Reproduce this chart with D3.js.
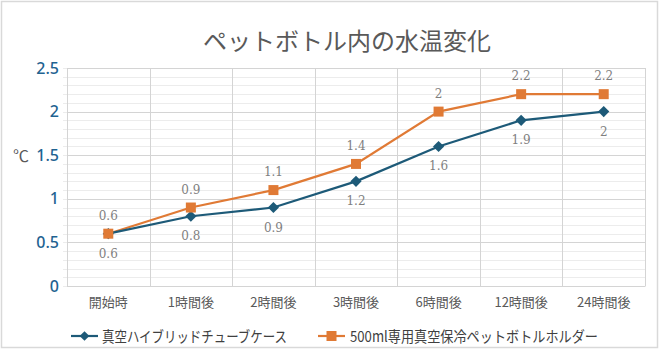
<!DOCTYPE html>
<html><head><meta charset="utf-8">
<script src="https://cdn.jsdelivr.net/npm/d3@7"></script>
<style>body{margin:0;background:#fff}svg{display:block}</style>
</head><body>
<svg id="c" width="660" height="351"></svg>
<script>
const categories = ["開始時","1時間後","2時間後","3時間後","6時間後","12時間後","24時間後"];
const seriesNames = ["真空ハイブリッドチューブケース","500ml専用真空保冷ペットボトルホルダー"];
const blueValues = [0.6,0.8,0.9,1.2,1.6,1.9,2.0];
const orangeValues = [0.6,0.9,1.1,1.4,2.0,2.2,2.2];
const yTicks = [0,0.5,1,1.5,2,2.5];
const title = "ペットボトル内の水温変化";
const yLabel = "℃";

const svg = d3.select("#c");
const W=660,H=351;
const m={l:67,r:15,t:68,b:65};
const blue="#1d5a78", orange="#e07a35";
svg.append("rect").attr("x",1.5).attr("y",1.5).attr("width",W-4).attr("height",H-5)
  .attr("fill","#fff").attr("stroke","#d9d9d9").attr("stroke-width",1.5);

const x=d3.scaleBand().domain(categories).range([m.l,W-m.r]);
const y=d3.scaleLinear().domain([0,2.5]).range([H-m.b,m.t]);

// minor grid
const minor=d3.range(0,2.5001,0.1);
svg.append("g").selectAll("line").data(minor).join("line")
  .attr("x1",m.l-4).attr("x2",W-m.r).attr("y1",d=>Math.round(y(d))+0.5).attr("y2",d=>Math.round(y(d))+0.5)
  .attr("stroke","#ececec").attr("stroke-width",1);
// major grid
svg.append("g").selectAll("line").data(yTicks).join("line")
  .attr("x1",m.l).attr("x2",W-m.r).attr("y1",d=>Math.round(y(d))+0.5).attr("y2",d=>Math.round(y(d))+0.5)
  .attr("stroke","#d4d4d4").attr("stroke-width",1);
// vertical grid
const bounds=categories.map(c=>x(c)).concat([x.range()[1]]);
svg.append("g").selectAll("line").data(bounds).join("line")
  .attr("x1",d=>Math.round(d)+0.5).attr("x2",d=>Math.round(d)+0.5).attr("y1",m.t).attr("y2",H-m.b)
  .attr("stroke","#d4d4d4");

// axes
const ya=svg.append("g").attr("transform",`translate(${m.l},0)`)
  .call(d3.axisLeft(y).tickValues(yTicks).tickSize(0).tickPadding(8).tickFormat(d3.format("")));
ya.select(".domain").remove();
ya.selectAll("text").attr("fill","#1f6391").attr("font-family","Noto Sans, sans-serif").attr("font-size",16).attr("font-weight",500);

const xa=svg.append("g").attr("transform",`translate(0,${H-m.b})`)
  .call(d3.axisBottom(x).tickSize(0).tickPadding(12));
xa.select(".domain").attr("stroke","#d4d4d4");
xa.selectAll("text").attr("fill","#595959").attr("font-family","Noto Sans CJK JP, sans-serif").attr("font-size",13);

// title
svg.append("text").attr("x",347).attr("y",50).attr("text-anchor","middle")
  .attr("font-family","Noto Sans CJK JP, sans-serif").attr("font-size",24).attr("fill","#595959").text(title);
svg.append("text").attr("x",21).attr("y",162).attr("text-anchor","middle")
  .attr("font-family","Noto Sans CJK JP, sans-serif").attr("font-size",16).attr("fill","#595959").text(yLabel);

const cx=c=>x(c)+x.bandwidth()/2;
const line=d3.line().x((d,i)=>cx(categories[i])).y(d=>y(d));

svg.append("path").datum(orangeValues).attr("d",line).attr("fill","none").attr("stroke",orange).attr("stroke-width",2.2);
svg.append("path").datum(blueValues).attr("d",line).attr("fill","none").attr("stroke",blue).attr("stroke-width",2.2);

svg.append("g").selectAll("path").data(blueValues).join("path")
  .attr("d",d3.symbol(d3.symbolDiamond2,80)())
  .attr("transform",(d,i)=>`translate(${cx(categories[i])},${y(d)})`).attr("fill",blue);
svg.append("g").selectAll("rect").data(orangeValues).join("rect")
  .attr("x",(d,i)=>cx(categories[i])-5).attr("y",d=>y(d)-5).attr("width",10).attr("height",10).attr("fill",orange);

const lblFont="DejaVu Serif, Liberation Serif, serif";
svg.append("g").selectAll("text").data(blueValues).join("text")
  .attr("x",(d,i)=>cx(categories[i])).attr("y",d=>y(d)+24).attr("text-anchor","middle")
  .attr("font-family",lblFont).attr("font-size",12).attr("fill","#7f7f7f").text(d=>d);
svg.append("g").selectAll("text").data(orangeValues).join("text")
  .attr("x",(d,i)=>cx(categories[i])).attr("y",d=>y(d)-14).attr("text-anchor","middle")
  .attr("font-family",lblFont).attr("font-size",12).attr("fill","#7f7f7f").text(d=>d);

// legend
const lg=svg.append("g");
const ly=336;
lg.append("line").attr("x1",71).attr("x2",98).attr("y1",ly).attr("y2",ly).attr("stroke",blue).attr("stroke-width",2.2);
lg.append("path").attr("d",d3.symbol(d3.symbolDiamond2,60)()).attr("transform",`translate(84.5,${ly})`).attr("fill",blue);
lg.append("text").attr("x",102).attr("y",ly+5.5).attr("font-family","Noto Sans CJK JP, sans-serif").attr("font-size",15)
  .attr("textLength",185).attr("lengthAdjust","spacingAndGlyphs").attr("fill","#404040").text(seriesNames[0]);
lg.append("line").attr("x1",318).attr("x2",345).attr("y1",ly).attr("y2",ly).attr("stroke",orange).attr("stroke-width",2.2);
lg.append("rect").attr("x",326.5).attr("y",ly-5).attr("width",10).attr("height",10).attr("fill",orange);
lg.append("text").attr("x",350).attr("y",ly+5.5).attr("font-family","Noto Sans CJK JP, sans-serif").attr("font-size",15)
  .attr("textLength",248).attr("lengthAdjust","spacingAndGlyphs").attr("fill","#404040").text(seriesNames[1]);
</script>
</body></html>
